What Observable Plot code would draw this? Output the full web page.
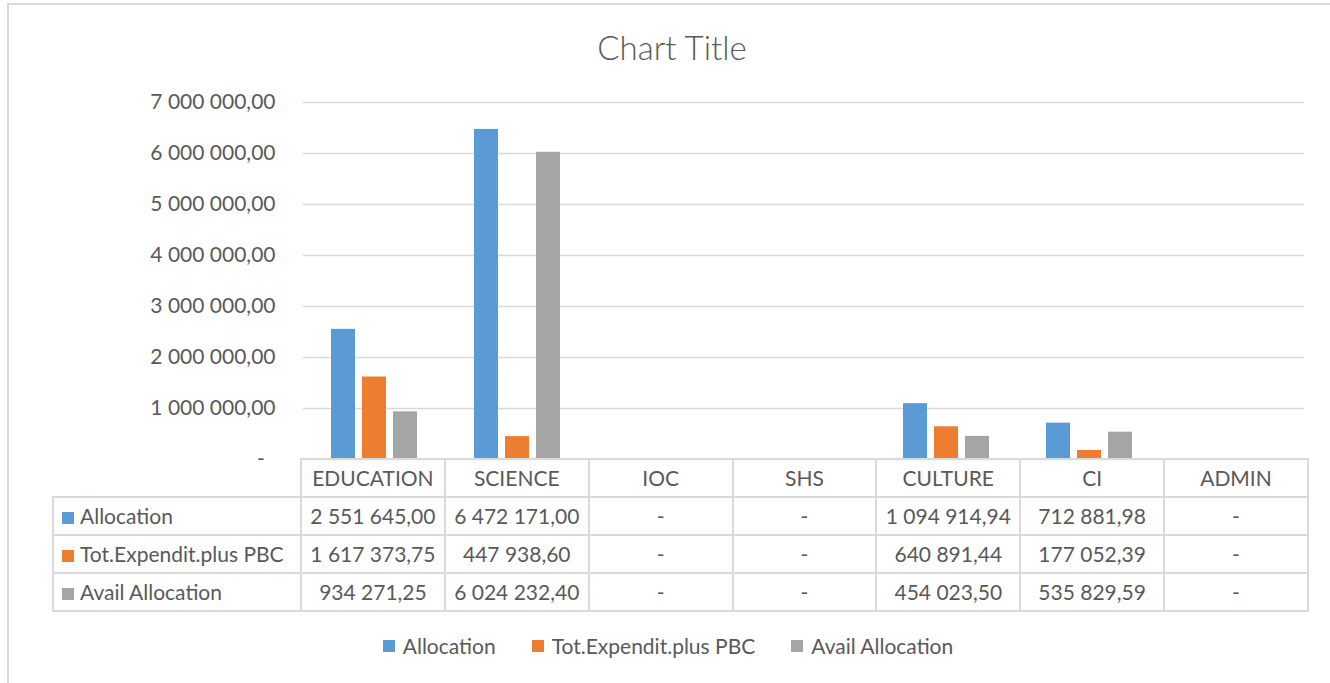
<!DOCTYPE html>
<html>
<head>
<meta charset="utf-8">
<script src="https://cdn.jsdelivr.net/npm/d3@7"></script>
<script src="https://cdn.jsdelivr.net/npm/@observablehq/plot@0.6"></script>
<style>
  html, body { margin: 0; padding: 0; background: #fff; }
  body { width: 1330px; height: 683px; overflow: hidden; position: relative; font-family: Lato, "Open Sans", sans-serif; color: #595959; }
  #frame { position: absolute; left: 7px; top: 3px; width: 1400px; height: 800px; border-top: 2px solid #d9d9d9; border-left: 2px solid #d9d9d9; }
  #title { position: absolute; left: 0; top: 31px; width: 1344px; text-align: center; font-size: 33px; line-height: 33px; font-weight: 300; }
  #chart { position: absolute; left: 0; top: 80px; }
  #table { position: absolute; left: 52px; top: 458px; border-collapse: collapse; table-layout: fixed; font-size: 21px; }
  #table td { border: 2px solid #dadada; height: 34px; padding: 0 0 2px 0; text-align: center; white-space: nowrap; }
  #table td.lab { text-align: left; padding-left: 8px; }
  #table td.blank { border: none; border-bottom: 2px solid #dadada; }
  .sw { display: inline-block; width: 12px; height: 12px; margin-right: 6px; vertical-align: 0px; }
  #legend { position: absolute; left: 0; top: 633px; width: 1336px; display: flex; justify-content: center; gap: 36px; font-size: 21px; }
  #legend span.item { display: inline-flex; align-items: center; }
  #legend .sw { margin-right: 8px; }
</style>
</head>
<body>
<div id="frame"></div>
<div id="title">Chart Title</div>
<div id="chart"></div>
<table id="table"></table>
<div id="legend"></div>
<script>
const categories = ["EDUCATION", "SCIENCE", "IOC", "SHS", "CULTURE", "CI", "ADMIN"];
const seriesNames = ["Allocation", "Tot.Expendit.plus PBC", "Avail Allocation"];
const allocation = [2551645.00, 6472171.00, 0, 0, 1094914.94, 712881.98, 0];
const expenditure = [1617373.75, 447938.60, 0, 0, 640891.44, 177052.39, 0];
const available = [934271.25, 6024232.40, 0, 0, 454023.50, 535829.59, 0];
const yTicks = [0, 1000000, 2000000, 3000000, 4000000, 5000000, 6000000, 7000000];
const colors = ["#5b9bd5", "#ed7d31", "#a5a5a5"];

const seriesValues = [allocation, expenditure, available];
const locale = d3.formatLocale({decimal: ",", thousands: "\u00a0", grouping: [3], currency: ["", ""]});
const num = locale.format(",.2f");
const fmt = v => v === 0 ? "-" : num(v);

const data = categories.flatMap((c, i) => seriesNames.map((s, j) => ({category: c, series: s, value: seriesValues[j][i]})));

const chart = Plot.plot({
  width: 1330,
  height: 391,
  marginLeft: 300,
  marginRight: 23,
  marginTop: 22,
  marginBottom: 12,
  style: {fontFamily: "Lato, 'Open Sans', sans-serif", fontSize: "21px", color: "#595959", background: "transparent"},
  fx: {domain: categories, padding: 0, axis: null, label: null},
  x: {domain: seriesNames, paddingInner: 0.22, paddingOuter: 0.86, axis: null},
  y: {domain: [0, 7000000], ticks: 7, tickSize: 0, tickPadding: 28, label: null,
      tickFormat: d => d === 0 ? "-\u00a0\u00a0" : num(d)},
  color: {domain: seriesNames, range: colors},
  marks: [
    Plot.ruleY(yTicks, {stroke: "#d9d9d9", strokeWidth: 1.5}),
    Plot.barY(data, {fx: "category", x: "series", y: "value", fill: "series"})
  ]
});
document.getElementById("chart").appendChild(chart);

// data table
const table = document.getElementById("table");
const colW = 1007 / categories.length;
let html = `<colgroup><col style="width:248px">${categories.map(() => `<col style="width:${colW}px">`).join("")}</colgroup>`;
html += `<tr><td class="blank"></td>${categories.map(c => `<td>${c}</td>`).join("")}</tr>`;
seriesNames.forEach((s, j) => {
  html += `<tr><td class="lab"><span class="sw" style="background:${colors[j]}"></span>${s}</td>${seriesValues[j].map(v => `<td>${fmt(v)}</td>`).join("")}</tr>`;
});
table.innerHTML = html;

// legend
document.getElementById("legend").innerHTML = seriesNames.map((s, j) =>
  `<span class="item"><span class="sw" style="background:${colors[j]}"></span>${s}</span>`).join("");
</script>
</body>
</html>
